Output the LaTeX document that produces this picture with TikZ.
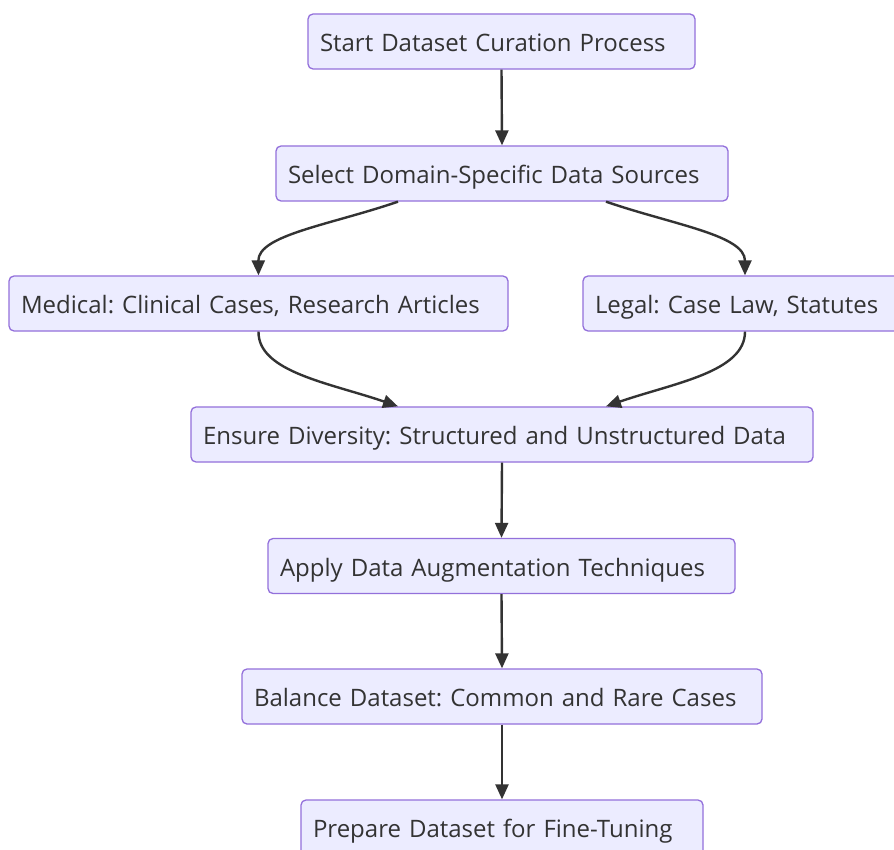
\documentclass[tikz,border=0pt]{standalone}
\usepackage{fontspec}
\setmainfont{Open Sans}
\frenchspacing
\usetikzlibrary{arrows.meta,calc}
\definecolor{boxfill}{HTML}{ECECFF}
\definecolor{boxline}{HTML}{9370DB}
\definecolor{ink}{HTML}{333333}
\tikzset{
  box/.style={draw=boxline, fill=boxfill, line width=1.3pt, rounded corners=5pt,
    inner xsep=12pt, inner ysep=0pt, minimum height=55pt, align=left,
    text height=21pt, text depth=1pt,
    font=\fontsize{24}{28}\selectfont\frenchspacing, text=ink},
  link/.style={draw=ink, line width=2.4pt, -{Triangle[length=15pt,width=13pt]}}
}
\begin{document}
\begin{tikzpicture}[x=1pt,y=-1pt]
\clip (0,0) rectangle (894,850);
\fill[white] (0,0) rectangle (894,850);
\node[box, text width=363pt] (start) at (501.5,41.5) {Start Dataset Curation Process};
\node[box, text width=428pt] (sel) at (502,173.5) {Select Domain-Specific Data Sources};
\node[box, text width=475pt] (med) at (258.5,303.5) {Medical: Clinical Cases, Research Articles};
\node[box, text width=300pt] (leg) at (745,303.5) {Legal: Case Law, Statutes};
\node[box, text width=598pt] (ens) at (502,434.5) {Ensure Diversity: Structured and Unstructured Data};
\node[box, text width=443pt] (app) at (501.5,566) {Apply Data Augmentation Techniques};
\node[box, text width=496pt] (bal) at (502,696.5) {Balance Dataset: Common and Rare Cases};
\node[box, text width=378pt] (pre) at (502,827.5) {Prepare Dataset for Fine-Tuning};
\draw[link] (start.south) -- (sel.south |- sel.north);
\draw[link] ($(sel.south)+(-104,0)$) .. controls (330,225) and (258,235) .. (med.north);
\draw[link] ($(sel.south)+(104,0)$) .. controls (674,225) and (745,235) .. (leg.north);
\draw[link] (med.south) .. controls (258,372) and (330,383) .. ($(ens.north)+(-104,0)$);
\draw[link] (leg.south) .. controls (745,372) and (674,383) .. ($(ens.north)+(104,0)$);
\draw[link] (ens.south) -- (app.north);
\draw[link] (app.south) -- (bal.north);
\draw[link] (bal.south) -- (pre.north);
\end{tikzpicture}
\end{document}
